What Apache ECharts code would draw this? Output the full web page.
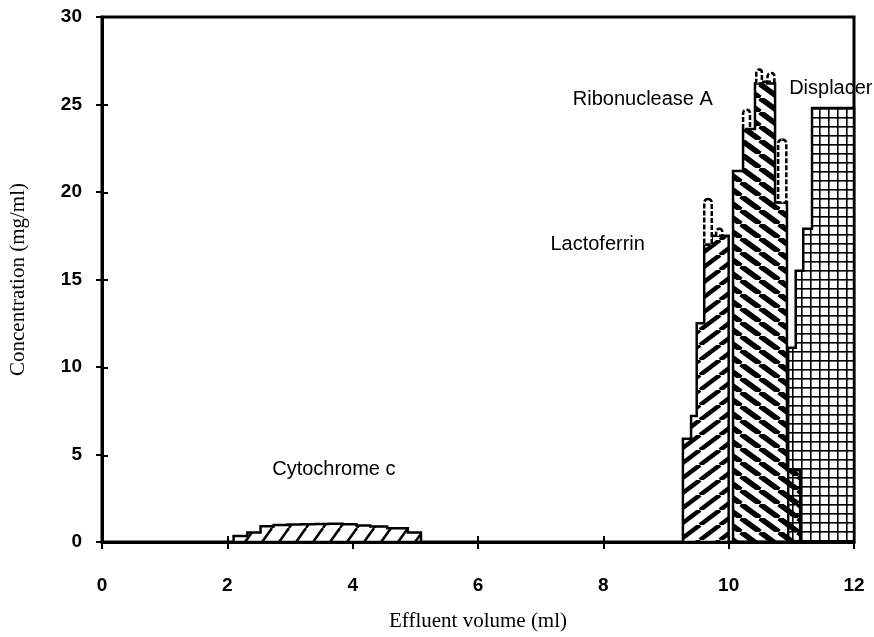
<!DOCTYPE html>
<html>
<head>
<meta charset="utf-8">
<script src="https://cdn.jsdelivr.net/npm/echarts@6/dist/echarts.min.js"></script>
<style>
  html, body { margin: 0; padding: 0; background: #fff; }
  #chart { width: 874px; height: 637px; }
</style>
</head>
<body>
<div id="chart"></div>
<script>
// Fraction boundaries (ml); fraction i spans edges[i]..edges[i+1]
const cytochromeEdges = [2.10, 2.32, 2.53, 2.74, 2.96, 3.18, 3.40, 3.62, 3.84, 4.06, 4.28, 4.55, 4.88, 5.09];
const cytochromeValues = [0.35, 0.55, 0.9, 0.97, 1.0, 1.02, 1.03, 1.05, 1.02, 0.95, 0.88, 0.78, 0.55];

const lactoferrinEdges = [9.27, 9.40, 9.49, 9.61, 9.73, 9.86, 10.00];
const lactoferrinValues = [5.9, 7.2, 12.5, 17.0, 17.5, 17.5];

const ribonucleaseEdges = [10.07, 10.23, 10.34, 10.42, 10.55, 10.61, 10.74, 10.93, 11.14];
const ribonucleaseValues = [21.2, 23.6, 23.6, 26.2, 26.3, 26.2, 19.4, 4.1];

const displacerEdges = [10.95, 11.07, 11.19, 11.33, 11.46, 11.60, 11.73, 11.87, 12.0];
const displacerValues = [11.1, 15.5, 17.9, 24.8, 24.8, 24.8, 24.8, 24.8];

// Mixed fractions shown as open caps above the hatched columns (ml, mg/ml)
const overlapStart = [9.61, 9.80, 10.23, 10.44, 10.62, 10.79];
const overlapEnd   = [9.73, 9.90, 10.34, 10.53, 10.73, 10.92];
const overlapBase  = [17.0, 17.5, 23.6, 26.2, 26.3, 19.4];
const overlapTop   = [19.6, 17.9, 24.7, 27.0, 26.8, 23.0];

// Component names and where their captions sit (ml, mg/ml)
const captionText = ['Cytochrome c', 'Lactoferrin', 'Ribonuclease A', 'Displacer'];
const captionX = [3.70, 7.91, 8.63, 11.63];
const captionY = [4.16, 17.0, 25.3, 25.9];

// Diagonal hatch tile: dir > 0 draws "/", dir < 0 draws "\"
function hatch(w, h, lw, dir, bg) {
  const c = document.createElement('canvas');
  c.width = w; c.height = h;
  const g = c.getContext('2d');
  if (bg) { g.fillStyle = bg; g.fillRect(0, 0, w, h); }
  g.strokeStyle = '#000';
  g.lineWidth = lw;
  for (const dx of [-w, 0, w]) {
    g.beginPath();
    if (dir > 0) { g.moveTo(dx, h); g.lineTo(dx + w, 0); }
    else { g.moveTo(dx, 0); g.lineTo(dx + w, h); }
    g.stroke();
  }
  return { image: c, repeat: 'repeat' };
}

// Square grid tile for the displacer
function gridTile(s, lw) {
  const c = document.createElement('canvas');
  c.width = s; c.height = s;
  const g = c.getContext('2d');
  g.fillStyle = '#fff'; g.fillRect(0, 0, s, s);
  g.fillStyle = '#000';
  g.fillRect(0, 0, lw, s);
  g.fillRect(0, 0, s, lw);
  return { image: c, repeat: 'repeat' };
}

const cytoFill = hatch(17, 24, 2.5, 1, '#fff');
const lactoFill = hatch(20, 15, 4.5, 1, '#fff');
const riboFill = hatch(19, 14, 5.5, -1, null);
const dispFill = gridTile(9, 1.6);

// Step outline of a fraction histogram, filled with a pattern
function stepSeries(name, edges, values, fill) {
  return {
    type: 'custom',
    name: name,
    silent: true,
    data: [[edges[0], 0]],
    renderItem: function (params, api) {
      const pts = [api.coord([edges[0], 0])];
      values.forEach(function (v, i) {
        pts.push(api.coord([edges[i], v]));
        pts.push(api.coord([edges[i + 1], v]));
      });
      pts.push(api.coord([edges[edges.length - 1], 0]));
      return {
        type: 'polygon',
        shape: { points: pts },
        style: { fill: fill, stroke: '#000', lineWidth: 2.5, lineJoin: 'miter' }
      };
    }
  };
}

const sansFont = '"Liberation Sans", Arial, Helvetica, sans-serif';
const serifFont = '"Liberation Serif", "Times New Roman", serif';

const chart = echarts.init(document.getElementById('chart'), null, { renderer: 'canvas' });

const gridBox = { left: 102, right: 20, top: 17, bottom: 94 };

chart.setOption({
  animation: false,
  backgroundColor: '#fff',
  grid: [
    Object.assign({ show: true, borderColor: '#000', borderWidth: 3 }, gridBox),
    Object.assign({ show: false }, gridBox)
  ],
  xAxis: [
    {
      type: 'value', gridIndex: 0, min: 0, max: 12, interval: 2,
      axisLine: { lineStyle: { color: '#000', width: 3 } },
      axisTick: { show: true, length: 7, lineStyle: { color: '#000', width: 2 } },
      axisLabel: { margin: 34, color: '#000', fontSize: 19, fontFamily: sansFont, fontWeight: 'bold' },
      splitLine: { show: false },
      name: 'Effluent volume (ml)', nameLocation: 'middle', nameGap: 69,
      nameTextStyle: { color: '#000', fontSize: 21, fontFamily: serifFont }
    },
    {
      type: 'value', gridIndex: 1, min: 0, max: 12, interval: 2,
      axisLine: { show: false },
      axisTick: { show: true, inside: true, length: 7, lineStyle: { color: '#000', width: 2 } },
      axisLabel: { show: false },
      splitLine: { show: false }
    }
  ],
  yAxis: [
    {
      type: 'value', gridIndex: 0, min: 0, max: 30, interval: 5,
      axisLine: { show: true, lineStyle: { color: '#000', width: 3 } },
      axisTick: { show: true, length: 6, lineStyle: { color: '#000', width: 2 } },
      axisLabel: { margin: 20, color: '#000', fontSize: 19, fontFamily: sansFont, fontWeight: 'bold' },
      splitLine: { show: false },
      name: 'Concentration (mg/ml)', nameLocation: 'middle', nameGap: 73,
      nameTextStyle: { color: '#000', fontSize: 21, fontFamily: serifFont }
    },
    {
      type: 'value', gridIndex: 1, min: 0, max: 30, interval: 5,
      axisLine: { show: false },
      axisTick: { show: true, inside: true, length: 6, lineStyle: { color: '#000', width: 2 } },
      axisLabel: { show: false },
      splitLine: { show: false }
    }
  ],
  series: [
    stepSeries('Cytochrome c', cytochromeEdges, cytochromeValues, cytoFill),
    stepSeries('Displacer', displacerEdges, displacerValues, dispFill),
    stepSeries('Lactoferrin', lactoferrinEdges, lactoferrinValues, lactoFill),
    stepSeries('Ribonuclease A', ribonucleaseEdges, ribonucleaseValues, riboFill),
    {
      type: 'custom',
      name: 'Mixed fractions',
      silent: true,
      data: overlapStart.map(function (s, i) { return [s, overlapTop[i]]; }),
      renderItem: function (params, api) {
        const i = params.dataIndex;
        const p0 = api.coord([overlapStart[i], overlapTop[i]]);
        const p1 = api.coord([overlapEnd[i], overlapBase[i]]);
        return {
          type: 'rect',
          shape: { x: p0[0], y: p0[1], width: p1[0] - p0[0], height: p1[1] - p0[1], r: [4, 4, 0, 0] },
          style: { fill: '#fff', stroke: '#000', lineWidth: 2.5, lineDash: [5, 2] }
        };
      }
    },
    {
      type: 'custom',
      name: 'Captions',
      silent: true,
      data: captionText.map(function (t, i) { return [captionX[i], captionY[i]]; }),
      renderItem: function (params, api) {
        const i = params.dataIndex;
        const p = api.coord([captionX[i], captionY[i]]);
        return {
          type: 'text',
          x: p[0], y: p[1],
          style: {
            text: captionText[i], fill: '#000', align: 'center', verticalAlign: 'middle',
            font: '20px ' + sansFont
          }
        };
      }
    }
  ]
});
</script>
</body>
</html>
